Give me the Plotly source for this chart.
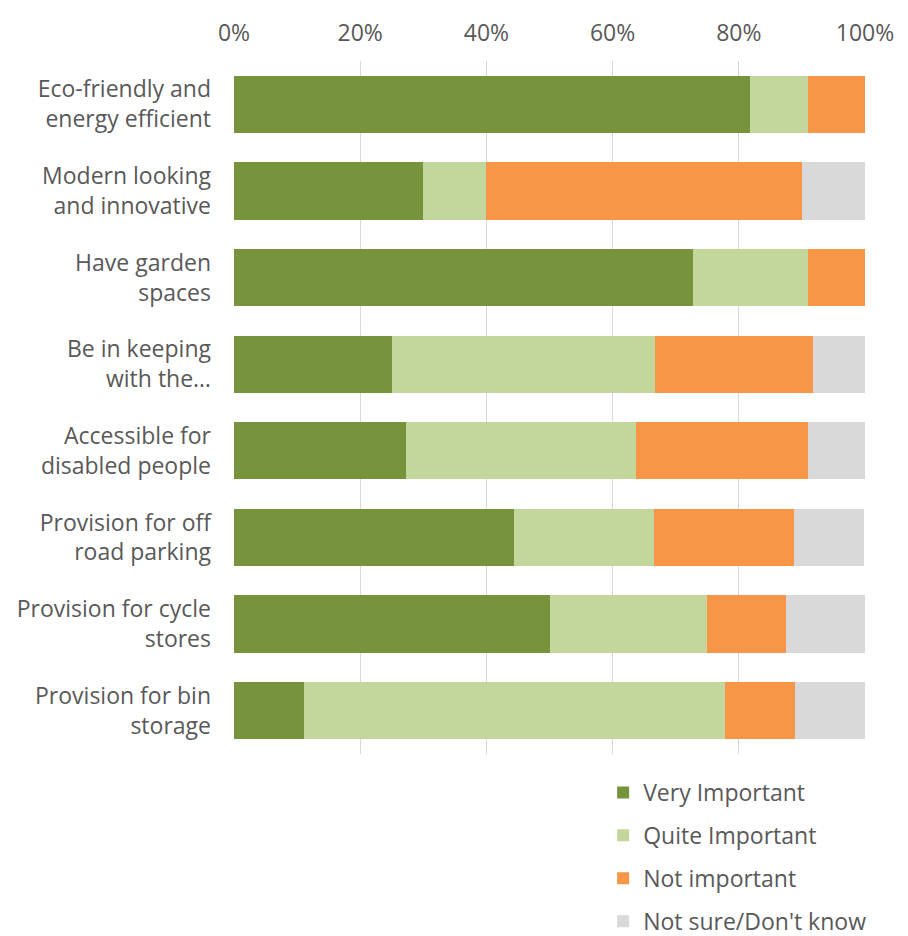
import plotly.graph_objects as go

categories = [
    "Eco-friendly and<br>energy efficient",
    "Modern looking<br>and innovative",
    "Have garden<br>spaces",
    "Be in keeping<br>with the…",
    "Accessible for<br>disabled people",
    "Provision for off<br>road parking",
    "Provision for cycle<br>stores",
    "Provision for bin<br>storage",
]
very_important = [81.8, 30.0, 72.7, 25.0, 27.3, 44.4, 50.0, 11.1]
quite_important = [9.1, 10.0, 18.2, 41.7, 36.4, 22.2, 25.0, 66.7]
not_important = [9.1, 50.0, 9.1, 25.0, 27.3, 22.2, 12.5, 11.1]
not_sure = [0.0, 10.0, 0.0, 8.3, 9.1, 11.1, 12.5, 11.1]
series_names = ["Very Important", "Quite Important", "Not important", "Not sure/Don't know"]
colors = ["#77933C", "#C3D69B", "#F79646", "#D9D9D9"]
tick_vals = [0, 20, 40, 60, 80, 100]
tick_text = ["0%", "20%", "40%", "60%", "80%", "100%"]

fig = go.Figure()
for name, vals, col in zip(series_names,
                           [very_important, quite_important, not_important, not_sure],
                           colors):
    fig.add_trace(go.Bar(
        y=categories, x=vals, name=name, orientation="h",
        marker=dict(color=col, line=dict(width=0)),
        legendgroup=name,
    ))

font_family = "Open Sans, Noto Sans, sans-serif"
fig.update_layout(
    barmode="stack",
    bargap=0.34,
    width=908, height=936,
    margin=dict(l=234, r=43, t=61, b=182, autoexpand=False),
    paper_bgcolor="white", plot_bgcolor="white",
    font=dict(family=font_family, size=23, color="#595959"),
    showlegend=True,
    legend=dict(
        x=0.585, y=-0.0245, xanchor="left", yanchor="top",
        orientation="v", traceorder="grouped", tracegroupgap=10,
        font=dict(size=23, color="#595959"),
        bgcolor="rgba(0,0,0,0)",
    ),
    xaxis=dict(
        side="top", range=[0, 100], tickvals=tick_vals, ticktext=tick_text,
        showgrid=True, gridcolor="#D9D9D9", gridwidth=1,
        zeroline=False, showline=False, ticks="",
        ticklabelstandoff=14,
        tickfont=dict(size=23, color="#595959"),
    ),
    yaxis=dict(
        autorange="reversed", showgrid=False, ticks="", showline=False,
        ticklabelstandoff=22,
        tickfont=dict(size=23, color="#595959"),
    ),
)

fig.write_html("out.html")
